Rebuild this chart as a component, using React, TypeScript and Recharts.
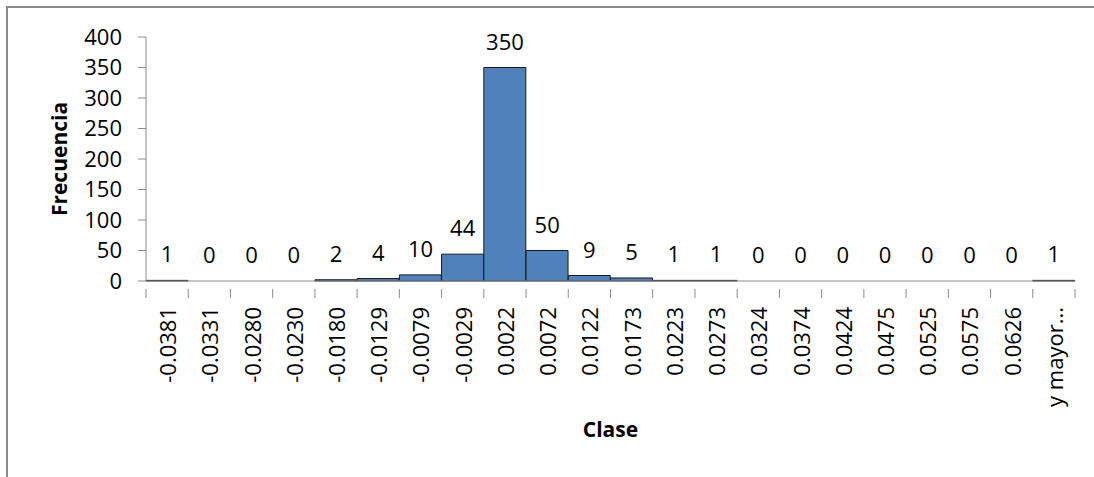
import React from 'react'
import { Bar, ComposedChart, LabelList, Line, XAxis, YAxis } from 'recharts'

const categories = [
  '-0.0381', '-0.0331', '-0.0280', '-0.0230', '-0.0180', '-0.0129', '-0.0079', '-0.0029',
  '0.0022', '0.0072', '0.0122', '0.0173', '0.0223', '0.0273', '0.0324', '0.0374',
  '0.0424', '0.0475', '0.0525', '0.0575', '0.0626', 'y mayor...',
]
const frecuencias = [1, 0, 0, 0, 2, 4, 10, 44, 350, 50, 9, 5, 1, 1, 0, 0, 0, 0, 0, 0, 0, 1]
const yTicks = [0, 50, 100, 150, 200, 250, 300, 350, 400]

const data = categories.map((clase, i) => ({ clase, frecuencia: frecuencias[i] }))

const W = 1094
const H = 477
const LEFT = 146
const RIGHT = 19
const FONT = '"Open Sans", sans-serif'
const AXIS = '#8c8c8c'
const band = (W - LEFT - RIGHT) / categories.length

const ClaseTick = (props: any) => {
  const { x, y, payload } = props
  const half = band / 2
  const isLast = payload.index === categories.length - 1
  return (
    <g>
      <line x1={x - half} y1={y} x2={x - half} y2={y + 9} stroke={AXIS} />
      {isLast && <line x1={x + half} y1={y} x2={x + half} y2={y + 9} stroke={AXIS} />}
      <text
        x={x}
        y={y + 18}
        transform={`rotate(-90, ${x}, ${y + 18})`}
        textAnchor="end"
        dominantBaseline="central"
        fontFamily={FONT}
        fontSize={22}
        fill="#000"
      >
        {payload.value}
      </text>
    </g>
  )
}

export default function App() {
  return (
    <div style={{ position: 'relative', width: W, height: H, overflow: 'hidden', background: '#fff' }}>
      <style>{'body{margin:0;overflow:hidden}'}</style>
      <div
        style={{
          position: 'absolute',
          left: 6,
          top: 6,
          width: W + 20,
          height: H + 20,
          border: '2px solid #8a8a8a',
        }}
      />
      <div style={{ position: 'absolute', left: 0, top: 0 }}>
        <ComposedChart
          width={W}
          height={H}
          data={data}
          barCategoryGap={0}
          margin={{ top: 37, right: RIGHT, left: 0, bottom: 0 }}
        >
          <XAxis
            dataKey="clase"
            height={H - 281}
            interval={0}
            stroke={AXIS}
            tickLine={false}
            tick={<ClaseTick />}
            label={{
              value: 'Clase',
              position: 'insideTop',
              offset: 141,
              fontFamily: FONT,
              fontSize: 21,
              fontWeight: 'bold',
              fill: '#000',
            }}
          />
          <YAxis
            width={LEFT}
            domain={[0, 400]}
            ticks={yTicks}
            interval={0}
            stroke={AXIS}
            tickSize={8}
            tickMargin={16}
            tick={{ fontFamily: FONT, fontSize: 22, fill: '#000' }}
            label={{
              value: 'Frecuencia',
              angle: -90,
              position: 'center',
              dx: -13,
              fontFamily: FONT,
              fontSize: 21,
              fontWeight: 'bold',
              fill: '#000',
            }}
          />
          <Bar dataKey="frecuencia" fill="#4f81bd" stroke="#1a1a1a" strokeWidth={1} isAnimationActive={false} />
          <Line
            dataKey="frecuencia"
            stroke="none"
            dot={false}
            activeDot={false}
            legendType="none"
            isAnimationActive={false}
          >
            <LabelList
              dataKey="frecuencia"
              position="top"
              offset={18}
              fontFamily={FONT}
              fontSize={22}
              fill="#000"
            />
          </Line>
        </ComposedChart>
      </div>
    </div>
  )
}
